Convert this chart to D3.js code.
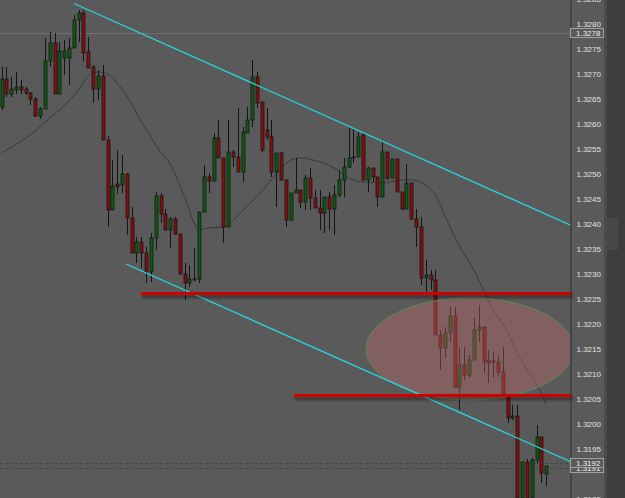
<!DOCTYPE html>
<html>
<head>
<meta charset="utf-8">
<script src="https://cdn.jsdelivr.net/npm/d3@7/dist/d3.min.js"></script>
<style>
  body { margin: 0; background: #5a5a5a; overflow: hidden; }
  svg { display: block; }
</style>
</head>
<body>
<div id="chart"></div>
<script>
// OHLC, one entry per bar (left to right)
var opens = [1.32633,1.32689,1.32659,1.32667,1.32673,1.32669,1.32661,1.32649,1.32615,1.32629,
  1.32725,1.32761,1.32659,1.32731,1.32731,1.32751,1.32807,1.32821,1.32743,1.32713,
  1.32669,1.32695,1.32567,1.32427,1.32479,1.32477,1.32499,1.32411,1.32341,1.32363,
  1.32341,1.32303,1.32371,1.32455,1.32419,1.32387,1.32409,1.32379,1.32299,1.32281,
  1.32287,1.32289,1.32423,1.32493,1.32485,1.32571,1.32531,1.32393,1.32543,1.32533,
  1.32503,1.32581,1.32607,1.32693,1.32643,1.32587,1.32573,1.32503,1.32541,1.32487,
  1.32407,1.32461,1.32467,1.32443,1.32491,1.32451,1.32431,1.32421,1.32453,1.32429,
  1.32457,1.32487,1.32513,1.32531,1.32533,1.32577,1.32487,1.32511,1.32493,1.32453,
  1.32543,1.32491,1.32529,1.32463,1.32429,1.32481,1.32409,1.32393,1.32291,1.32297,
  1.32287,1.32177,1.32151,1.32181,1.32215,1.32073,1.32117,1.32097,1.32127,1.32187,
  1.32193,1.32127,1.32123,1.32123,1.32103,1.32057,1.32011,1.32015,1.31851,1.31923,
  1.31851,1.31927,1.31973,1.31899];
var highs = [1.32713,1.32713,1.32693,1.32703,1.32687,1.32673,1.32663,1.32653,1.32633,1.32771,
  1.32783,1.32781,1.32763,1.32767,1.32771,1.32817,1.32827,1.32827,1.32773,1.32717,
  1.32707,1.32717,1.32575,1.32527,1.32547,1.32537,1.32501,1.32433,1.32373,1.32373,
  1.32353,1.32381,1.32463,1.32461,1.32429,1.32413,1.32413,1.32379,1.32321,1.32317,
  1.32351,1.32423,1.32517,1.32501,1.32581,1.32607,1.32531,1.32607,1.32547,1.32631,
  1.32593,1.32633,1.32727,1.32703,1.32643,1.32631,1.32607,1.32541,1.32543,1.32487,
  1.32461,1.32531,1.32467,1.32497,1.32511,1.32467,1.32467,1.32453,1.32463,1.32477,
  1.32507,1.32531,1.32591,1.32591,1.32583,1.32583,1.32513,1.32511,1.32493,1.32567,
  1.32543,1.32529,1.32529,1.32463,1.32519,1.32481,1.32429,1.32413,1.32327,1.32307,
  1.32307,1.32187,1.32193,1.32233,1.32233,1.32153,1.32153,1.32137,1.32211,1.32237,
  1.32193,1.32147,1.32143,1.32137,1.32153,1.32057,1.32037,1.32037,1.31923,1.31929,
  1.31931,1.31997,1.31973,1.31915];
var lows = [1.32627,1.32653,1.32653,1.32659,1.32659,1.32657,1.32637,1.32613,1.32609,1.32629,
  1.32713,1.32659,1.32659,1.32697,1.32677,1.32751,1.32763,1.32725,1.32711,1.32641,
  1.32647,1.32567,1.32393,1.32427,1.32459,1.32461,1.32377,1.32341,1.32321,1.32311,
  1.32281,1.32283,1.32347,1.32401,1.32387,1.32351,1.32377,1.32297,1.32247,1.32273,
  1.32285,1.32281,1.32423,1.32461,1.32485,1.32531,1.32361,1.32393,1.32513,1.32503,
  1.32483,1.32581,1.32593,1.32631,1.32543,1.32567,1.32493,1.32433,1.32487,1.32393,
  1.32407,1.32461,1.32431,1.32427,1.32427,1.32431,1.32387,1.32381,1.32387,1.32377,
  1.32453,1.32453,1.32511,1.32521,1.32533,1.32487,1.32463,1.32483,1.32433,1.32453,
  1.32487,1.32491,1.32463,1.32427,1.32429,1.32407,1.32353,1.32277,1.32261,1.32267,
  1.32177,1.32107,1.32131,1.32163,1.32071,1.32027,1.32087,1.32091,1.32127,1.32163,
  1.32101,1.32081,1.32091,1.32093,1.32057,1.32001,1.32007,1.31847,1.31847,1.31847,
  1.31847,1.31921,1.31881,1.31875];
var closes = [1.32689,1.32659,1.32669,1.32673,1.32667,1.32661,1.32649,1.32615,1.32629,1.32725,
  1.32761,1.32659,1.32745,1.32745,1.32751,1.32807,1.32821,1.32741,1.32711,1.32669,
  1.32695,1.32567,1.32427,1.32475,1.32473,1.32499,1.32411,1.32341,1.32363,1.32341,
  1.32303,1.32371,1.32455,1.32419,1.32387,1.32409,1.32379,1.32299,1.32281,1.32289,
  1.32289,1.32423,1.32493,1.32485,1.32571,1.32531,1.32393,1.32543,1.32533,1.32503,
  1.32583,1.32607,1.32693,1.32641,1.32547,1.32573,1.32503,1.32541,1.32487,1.32407,
  1.32461,1.32467,1.32443,1.32491,1.32451,1.32431,1.32421,1.32453,1.32429,1.32457,
  1.32487,1.32513,1.32531,1.32533,1.32573,1.32487,1.32511,1.32493,1.32453,1.32543,
  1.32491,1.32529,1.32463,1.32429,1.32481,1.32409,1.32393,1.32291,1.32297,1.32287,
  1.32177,1.32151,1.32181,1.32215,1.32073,1.32117,1.32097,1.32127,1.32187,1.32193,
  1.32123,1.32121,1.32125,1.32103,1.32057,1.32011,1.32015,1.31851,1.31923,1.31851,
  1.31927,1.31973,1.31901,1.31915];

// moving average, read at a handful of bars
var maIndex = [0,7,10,12,16,18,20,22,24,27,29,31,33,35,38,41,43,46,50,54,57,60,62,66,69,72,75,79,83,85,88,90,92,95,98,102,104,108,112,113];
var maValues = [1.32541,1.32585,1.32611,1.32627,1.32667,1.32695,1.32703,1.32699,1.32681,1.32639,
  1.32603,1.32573,1.32543,1.32519,1.32453,1.32387,1.32391,1.32393,1.32425,1.32465,
  1.32499,1.32527,1.32531,1.32523,1.32511,1.32491,1.32483,1.32481,1.32487,1.32487,
  1.32477,1.32457,1.32415,1.32355,1.32307,1.32227,1.32199,1.32123,1.32061,1.32039];

// 1.3190 sits under the bid/ask boxes in the terminal, so it is not listed
var priceTicks = [1.3185,1.3195,1.3200,1.3205,1.3210,1.3215,1.3220,1.3225,1.3230,1.3235,
  1.3240,1.3245,1.3250,1.3255,1.3260,1.3265,1.3270,1.3275,1.3280,1.3285];

// drawn objects: trend channel (bar index, price), horizontal levels, zone
var upperChannel = [[15.04, 1.32840], [117.95, 1.32397]];
var lowerChannel = [[25.83, 1.32319], [117.95, 1.31924]];
var levelStart = [28.94, 60.68];
var levelPrice = [1.32260, 1.32056];
var zoneCenter = [97.14, 1.32149];
var zoneRadius = [21.5, 0.00102];

// price markers on the scale
var lastPrice = 1.3278;
var bidAsk = [1.31911, 1.31922];
var bidAskLabels = ["1.3191", "1.3192"];

var W = 625, H = 498, plotRight = 570;

var svg = d3.select("#chart").append("svg")
  .attr("width", W)
  .attr("height", H);

svg.append("rect").attr("width", W).attr("height", H).attr("fill", "#5a5a5a");

var defs = svg.append("defs");
defs.append("clipPath").attr("id", "plotclip")
  .append("rect").attr("x", 0).attr("y", 0).attr("width", plotRight).attr("height", H);
// horizontal lines have a flat bbox, so the filter works in user space
var shadow = defs.append("filter").attr("id", "lvlshadow")
  .attr("filterUnits", "userSpaceOnUse")
  .attr("x", 0).attr("y", 0).attr("width", W).attr("height", H);
shadow.append("feDropShadow")
  .attr("dx", 1).attr("dy", 3).attr("stdDeviation", 1.5)
  .attr("flood-color", "#000").attr("flood-opacity", 0.45);

var x = d3.scaleLinear().domain([0, opens.length - 1]).range([1.5, 546.2]);
var y = d3.scaleLinear().domain([1.31851, 1.32847]).range([H, 0]);

var plot = svg.append("g").attr("clip-path", "url(#plotclip)");

// last price line
plot.append("line")
  .attr("x1", 0).attr("x2", plotRight)
  .attr("y1", y(lastPrice)).attr("y2", y(lastPrice))
  .attr("stroke", "#707070").attr("stroke-width", 1.2);

// bid / ask dashed lines
plot.selectAll(".bidask")
  .data(bidAsk)
  .enter()
  .append("line")
  .attr("x1", 0).attr("x2", plotRight)
  .attr("y1", function(d) { return Math.round(y(d)) + 0.5; })
  .attr("y2", function(d) { return Math.round(y(d)) + 0.5; })
  .attr("stroke", "#454545")
  .attr("stroke-dasharray", "3,2");

// moving average
var maData = maIndex.map(function(d, i) { return [d, maValues[i]]; });
plot.append("path")
  .datum(maData)
  .attr("fill", "none")
  .attr("stroke", "#3a3a3a")
  .attr("stroke-width", 1)
  .attr("d", d3.line()
    .x(function(d) { return x(d[0]); })
    .y(function(d) { return y(d[1]); })
    .curve(d3.curveMonotoneX));

// candles
var bars = opens.map(function(o, i) {
  return { i: i, o: o, h: highs[i], l: lows[i], c: closes[i] };
});

plot.selectAll(".wick")
  .data(bars)
  .enter()
  .append("line")
  .attr("x1", function(d) { return Math.round(x(d.i)) + 0.5; })
  .attr("x2", function(d) { return Math.round(x(d.i)) + 0.5; })
  .attr("y1", function(d) { return y(d.h); })
  .attr("y2", function(d) { return y(d.l); })
  .attr("stroke", "#141414")
  .attr("stroke-width", 1);

plot.selectAll(".body")
  .data(bars)
  .enter()
  .append("rect")
  .attr("x", function(d) { return Math.round(x(d.i)) - 1; })
  .attr("width", 3)
  .attr("y", function(d) { return y(Math.max(d.o, d.c)); })
  .attr("height", function(d) { return Math.max(1, Math.abs(y(d.o) - y(d.c))); })
  .attr("fill", function(d) { return d.c >= d.o ? "#0e5c12" : "#8a0e0e"; })
  .attr("stroke", "#141414")
  .attr("stroke-width", 0.8);

// zone ellipse
var zcx = x(zoneCenter[0]), zcy = y(zoneCenter[1]);
plot.append("ellipse")
  .attr("cx", zcx).attr("cy", zcy)
  .attr("rx", x(zoneCenter[0] + zoneRadius[0]) - zcx)
  .attr("ry", y(zoneCenter[1] - zoneRadius[1]) - zcy)
  .attr("fill", "rgba(205,110,110,0.35)")
  .attr("stroke", "#5d8a5a")
  .attr("stroke-width", 1);

// channel lines
[upperChannel, lowerChannel].forEach(function(seg) {
  plot.append("line")
    .attr("x1", x(seg[0][0])).attr("y1", y(seg[0][1]))
    .attr("x2", x(seg[1][0])).attr("y2", y(seg[1][1]))
    .attr("stroke", "#27d5df")
    .attr("stroke-width", 1.3);
});

// horizontal levels
svg.selectAll(".level")
  .data(levelPrice)
  .enter()
  .append("line")
  .attr("x1", function(d, i) { return x(levelStart[i]); })
  .attr("x2", plotRight + 2)
  .attr("y1", function(d) { return y(d); })
  .attr("y2", function(d) { return y(d); })
  .attr("stroke", "#d10000")
  .attr("stroke-width", 3)
  .attr("filter", "url(#lvlshadow)");

// price scale
svg.append("rect").attr("x", 604).attr("y", 0).attr("width", 3).attr("height", H).attr("fill", "#4b4b4b");
svg.append("rect").attr("x", 607).attr("y", 0).attr("width", 18).attr("height", H).attr("fill", "#3d3d3d");
svg.append("rect").attr("x", 607).attr("y", 218).attr("width", 11).attr("height", 32).attr("fill", "#474747");

var yAxis = svg.append("g")
  .attr("transform", "translate(" + (plotRight + 0.5) + ",0)")
  .call(d3.axisRight(y).tickValues(priceTicks).tickFormat(d3.format(".4f")).tickSize(0).tickPadding(6));
yAxis.select(".domain").attr("stroke", "#2f2f2f");
yAxis.selectAll("text")
  .attr("fill", "#e2e2e2")
  .style("font-family", "'Liberation Sans', Arial, sans-serif")
  .style("font-size", "8px");

// price boxes (they sit over the scale text, as in the terminal)
function priceBox(p, label) {
  var cy = Math.round(y(p));
  svg.append("rect")
    .attr("x", plotRight + 0.5).attr("y", cy - 4.5)
    .attr("width", 33).attr("height", 9)
    .attr("fill", "#5a5a5a")
    .attr("stroke", "#a0a0a0").attr("stroke-width", 1);
  svg.append("text")
    .attr("x", plotRight + 6).attr("y", cy + 3)
    .attr("fill", "#f0f0f0")
    .style("font-family", "'Liberation Sans', Arial, sans-serif")
    .style("font-size", "8px")
    .text(label);
}
priceBox(lastPrice, d3.format(".4f")(lastPrice));
priceBox(bidAsk[0], bidAskLabels[0]);
priceBox(bidAsk[1], bidAskLabels[1]);
</script>
</body>
</html>
